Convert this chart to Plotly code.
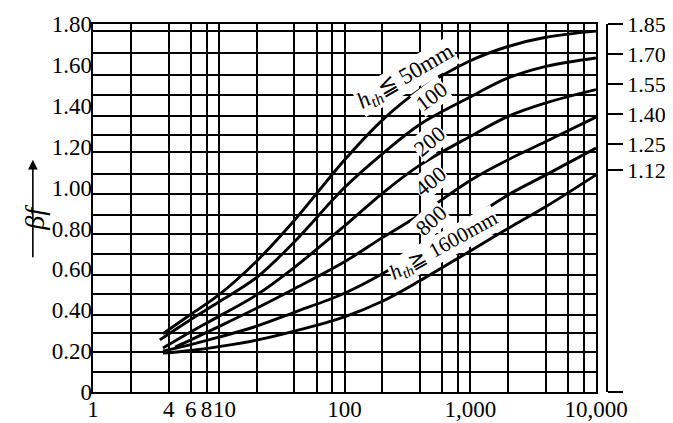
import plotly.graph_objects as go

# grid / tick positions
x_grid = [1, 2, 4, 6, 8, 10, 20, 40, 60, 80, 100, 200, 400, 600, 800,
          1000, 2000, 4000, 6000, 8000, 10000]
x_text = ["1", "", "4", "6", "8", "\u00a0\u00a010", "", "", "", "", "100",
          "", "", "", "", "1,000", "", "", "", "", "10,000"]
y_ticks = [0, 0.2, 0.4, 0.6, 0.8, 1.0, 1.2, 1.4, 1.6, 1.8]
y_text = ["0", "0.20", "0.40", "0.60", "0.80", "1.00", "1.20", "1.40", "1.60", "1.80"]
y_grid = [0.098, 0.196, 0.289, 0.379, 0.477, 0.572, 0.677, 0.772, 0.868, 0.967,
          1.066, 1.176, 1.258, 1.350, 1.454, 1.549, 1.659, 1.765]
right_ticks = [0.013, 1.12, 1.25, 1.40, 1.55, 1.70, 1.85]
right_text = ["", "1.12", "1.25", "1.40", "1.55", "1.70", "1.85"]

# curves (beta_f against x), one per h_th
x_50 = [3.6, 6, 10, 20, 40, 100, 200, 400, 1000, 2000, 4000, 10000]
b_50 = [0.285, 0.38, 0.475, 0.64, 0.84, 1.135, 1.33, 1.48, 1.62, 1.69, 1.735, 1.765]
x_100 = [3.4, 6, 10, 20, 40, 100, 200, 400, 1000, 2000, 4000, 10000]
b_100 = [0.255, 0.355, 0.44, 0.56, 0.735, 1.0, 1.165, 1.31, 1.443, 1.536, 1.593, 1.634]
x_200 = [3.6, 6, 10, 20, 40, 100, 200, 400, 1000, 2000, 4000, 10000]
b_200 = [0.215, 0.295, 0.37, 0.475, 0.61, 0.812, 0.972, 1.111, 1.25, 1.348, 1.414, 1.479]
x_400 = [4.5, 6, 10, 20, 40, 100, 200, 400, 1000, 2000, 4000, 10000]
b_400 = [0.22, 0.255, 0.32, 0.41, 0.505, 0.637, 0.755, 0.868, 1.035, 1.136, 1.225, 1.345]
x_800 = [3.6, 6, 10, 20, 40, 100, 200, 400, 1000, 2000, 4000, 10000]
b_800 = [0.20, 0.232, 0.268, 0.322, 0.39, 0.483, 0.578, 0.694, 0.845, 0.964, 1.062, 1.193]
x_1600 = [3.6, 6, 10, 20, 40, 100, 200, 400, 1000, 2000, 4000, 10000]
b_1600 = [0.19, 0.203, 0.222, 0.254, 0.298, 0.368, 0.444, 0.545, 0.69, 0.80, 0.907, 1.062]

curves = [(x_50, b_50), (x_100, b_100), (x_200, b_200),
          (x_400, b_400), (x_800, b_800), (x_1600, b_1600)]

FONT = "Liberation Serif"
fig = go.Figure()

for xs, ys in curves:
    fig.add_trace(go.Scatter(
        x=xs, y=ys, mode="lines",
        line=dict(color="black", width=2.9, shape="spline", smoothing=1.0),
        showlegend=False, hoverinfo="skip"
    ))

# empty traces so the extra axes get drawn
fig.add_trace(go.Scatter(x=[], y=[], yaxis="y2", showlegend=False, hoverinfo="skip"))
fig.add_trace(go.Scatter(x=[], y=[], yaxis="y3", showlegend=False, hoverinfo="skip"))

# curve labels (x in log10 units on the log axis)
labels = [
    ("<i>h</i><sub><i>th</i></sub>\u2266 50mm", 2.49, 1.54, -30, 23),
    ("100", 2.69, 1.445, -37, 22),
    ("200", 2.672, 1.226, -40, 22),
    ("400", 2.68, 1.03, -40, 22),
    ("800", 2.69, 0.837, -42, 22),
    ("<i>h</i><sub><i>th</i></sub>\u2267 1600mm", 2.79, 0.712, -29, 21),
]
for text, lx, ly, ang, size in labels:
    fig.add_annotation(
        x=lx, y=ly, xref="x", yref="y", text=text, showarrow=False,
        textangle=ang, bgcolor="white", borderpad=0,
        font=dict(family=FONT, size=size, color="black")
    )

# axis title with arrow
fig.add_annotation(
    x=-0.148, y=0.475, xref="paper", yref="paper",
    text="<i>\u03b2f</i>", showarrow=False, textangle=-90,
    font=dict(family=FONT, size=28, color="black")
)
fig.add_annotation(
    x=-0.117, y=0.631, xref="paper", yref="paper", text="",
    showarrow=True, arrowhead=2, arrowsize=1.2, arrowwidth=1.6,
    arrowcolor="black", ax=0, ay=99
)

# the page body adds an 8px offset, so the figure is 8px smaller
fig.update_layout(
    width=665, height=415,
    margin=dict(l=85, r=66, t=16, b=31),
    paper_bgcolor="white", plot_bgcolor="white",
    font=dict(family=FONT, size=23, color="black"),
    xaxis=dict(
        type="log", range=[0, 4], domain=[0, 0.9786],
        tickvals=x_grid, ticktext=x_text, ticks="", tickangle=0,
        ticklabelstandoff=-5,
        showgrid=True, gridcolor="black", gridwidth=1.6,
        showline=True, linecolor="black", linewidth=1.8, mirror=True,
        zeroline=False, automargin=False, tickfont=dict(family=FONT, size=23)
    ),
    yaxis=dict(
        range=[0, 1.8], tickvals=y_grid, showticklabels=False, ticks="",
        showgrid=True, gridcolor="black", gridwidth=1.6,
        showline=True, linecolor="black", linewidth=1.8, mirror=True,
        zeroline=False, automargin=False
    ),
    yaxis3=dict(
        overlaying="y", side="left", range=[0, 1.8],
        tickvals=y_ticks, ticktext=y_text, ticks="",
        showgrid=False, zeroline=False, showline=False, automargin=False,
        tickfont=dict(family=FONT, size=23)
    ),
    yaxis2=dict(
        overlaying="y", side="right", anchor="free", position=1.0,
        range=[0.013, 1.85], tickvals=right_ticks, ticktext=right_text,
        ticks="outside", ticklen=15, tickwidth=1.5, tickcolor="black",
        showline=True, linecolor="black", linewidth=1.5,
        showgrid=False, zeroline=False, automargin=False,
        tickfont=dict(family=FONT, size=22)
    ),
)

fig.write_html("out.html")
